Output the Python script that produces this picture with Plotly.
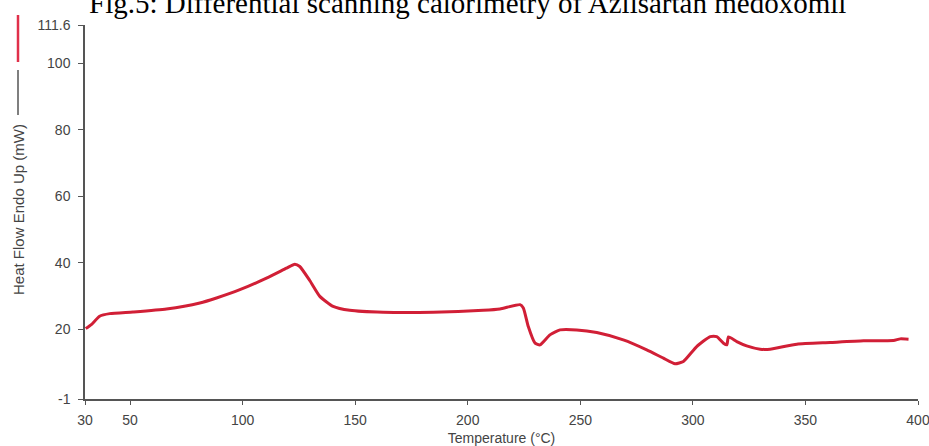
import plotly.graph_objects as go

# DSC trace of Azilsartan medoxomil: temperature (°C) vs heat flow (mW)
temperature = [30.3, 32.8, 36.5, 41.0, 51.3, 66.2, 81.0, 88.4, 98.8, 110.6,
               119.5, 123.2, 125.4, 129.9, 134.3, 140.2, 147.6, 162.4, 184.7,
               206.9, 214.3, 223.2, 224.7, 226.9, 229.9, 232.1, 236.5, 241.0,
               248.4, 257.3, 269.1, 279.5, 286.9, 292.1, 295.8, 301.7, 307.7,
               310.6, 313.6, 315.1, 315.8, 319.5, 323.9, 329.9, 334.3, 346.2,
               361.0, 375.8, 389.1, 392.1, 395.8]
heat_flow = [20.2, 21.4, 23.9, 24.7, 25.2, 26.1, 27.9, 29.4, 31.9, 35.4,
             38.4, 39.6, 38.9, 34.6, 29.9, 26.9, 25.7, 25.1, 25.1,
             25.7, 26.1, 27.4, 26.4, 20.8, 15.8, 15.3, 18.3, 19.8,
             19.8, 19.0, 16.8, 13.8, 11.3, 9.6, 10.3, 14.8, 17.8,
             17.8, 15.8, 15.3, 17.7, 16.3, 15.0, 14.0, 14.0, 15.5,
             16.0, 16.5, 16.6, 17.1, 17.0]

x_ticks = [30, 50, 100, 150, 200, 250, 300, 350, 400]
y_ticks = [-1, 20, 40, 60, 80, 100, 111.6]
y_tick_text = ["-1", "20", "40", "60", "80", "100", "111.6"]

title_text = "Fig.5: Differential scanning calorimetry of Azilsartan medoxomil"
x_title = "Temperature (°C)"
y_title = "Heat Flow Endo Up (mW)"

axis_font = dict(family="Liberation Sans, Arial, sans-serif", size=14, color="#444444")

fig = go.Figure()
fig.add_trace(go.Scatter(
    x=temperature, y=heat_flow, mode="lines",
    line=dict(color="#d11f36", width=3, shape="spline", smoothing=0.5),
    showlegend=False, hoverinfo="x+y",
))

fig.update_layout(
    width=929, height=446,
    margin=dict(l=85, r=11, t=25, b=47, autoexpand=False),
    paper_bgcolor="white", plot_bgcolor="white",
    xaxis=dict(
        range=[30, 400], tickvals=x_ticks, ticks="outside", ticklen=4,
        tickcolor="#555555", showline=True, linecolor="#555555", linewidth=1.5,
        showgrid=False, zeroline=False, tickfont=axis_font,
        ticklabelstandoff=3, ticklabeloverflow="allow",
        title=dict(text=x_title, font=axis_font, standoff=7),
        automargin=False,
    ),
    yaxis=dict(
        range=[-1, 111.6], tickvals=y_ticks, ticktext=y_tick_text, ticks="outside",
        ticklen=5, tickcolor="#555555", showline=True, linecolor="#555555",
        linewidth=1.5, showgrid=False, zeroline=False, tickfont=axis_font,
        ticklabelstandoff=5, ticklabeloverflow="allow",
        automargin=False,
    ),
)

# Figure caption across the top
fig.add_annotation(
    text=title_text, xref="paper", yref="paper", x=(467.5 - 85) / 833,
    y=1 + 4 / 374, xanchor="center", yanchor="bottom", showarrow=False,
    font=dict(family="Liberation Serif, Times New Roman, serif", size=29, color="black"),
)

# Rotated y-axis title, placed in line with the pen markers
fig.add_annotation(
    text=y_title, xref="paper", yref="paper", x=(18 - 85) / 833,
    y=(399 - 210) / 374, xanchor="center", yanchor="middle", textangle=-90,
    showarrow=False, font=dict(axis_font, size=15),
)

# Pen markers above the y-axis title (red sample trace, dark reference trace)
fig.add_shape(type="line", xref="paper", yref="paper",
              x0=-67 / 833, x1=-67 / 833, y0=(399 - 15) / 374, y1=(399 - 62) / 374,
              line=dict(color="#e0304a", width=2.5))
fig.add_shape(type="line", xref="paper", yref="paper",
              x0=-67 / 833, x1=-67 / 833, y0=(399 - 70) / 374, y1=(399 - 115) / 374,
              line=dict(color="#555555", width=1.5))

fig.write_html("out.html")
